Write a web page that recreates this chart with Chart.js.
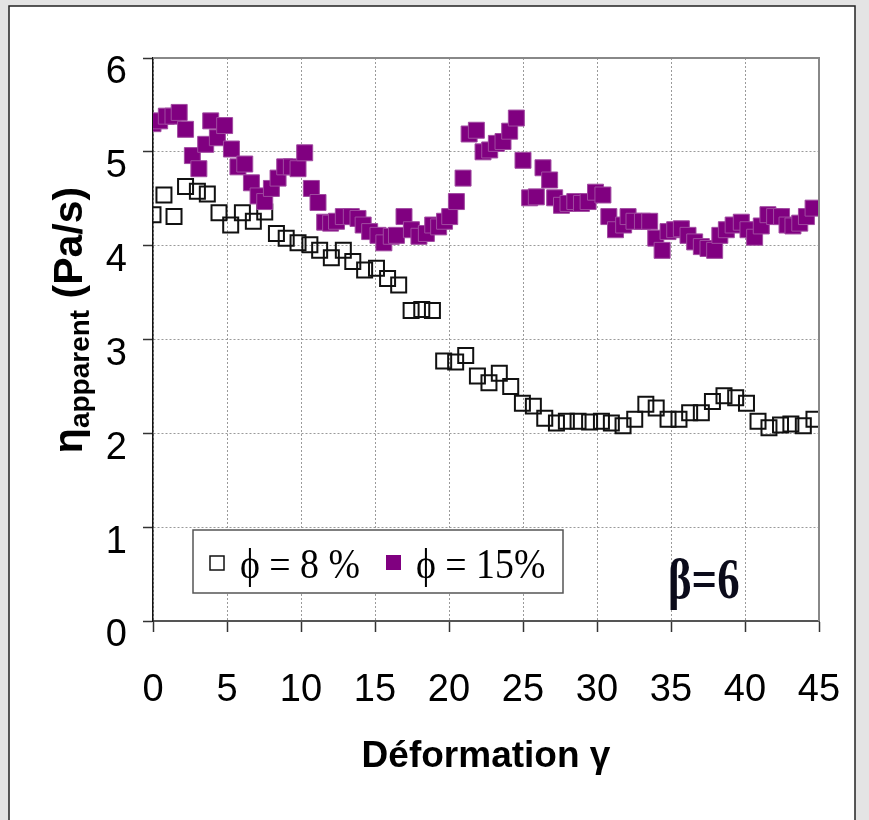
<!DOCTYPE html>
<html>
<head>
<meta charset="utf-8">
<script src="https://cdn.jsdelivr.net/npm/chart.js@4/dist/chart.umd.min.js"></script>
<style>
  html, body { margin: 0; padding: 0; background: #e4e4e4; }
  #wrap { position: absolute; left: 0; top: 0; width: 869px; height: 820px; }
</style>
</head>
<body>
<div id="wrap"><canvas id="chart" width="869" height="820"></canvas></div>
<script>
// phi = 8 % (open squares)
const gammaPhi8 = [0, 0.74, 1.42, 2.2, 3.0, 3.67, 4.46, 5.25, 6.04, 6.78, 7.55, 8.34, 9.0, 9.8, 10.6,
    11.26, 12.05, 12.86, 13.5, 14.3, 15.1, 15.85, 16.6, 17.44, 18.16, 18.88, 19.64, 20.45, 21.13, 21.92,
    22.7, 23.4, 24.17, 24.96, 25.7, 26.47, 27.26, 27.93, 28.72, 29.5, 30.3, 30.97, 31.76, 32.55, 33.3,
    34.0, 34.8, 35.54, 36.26, 37.05, 37.8, 38.58, 39.37, 40.1, 40.88, 41.62, 42.4, 43.1, 43.94, 44.66];
const etaPhi8 = [4.33, 4.54, 4.31, 4.63, 4.58, 4.55, 4.35, 4.22, 4.35, 4.26, 4.36, 4.13, 4.08, 4.03, 4.01,
    3.95, 3.87, 3.95, 3.83, 3.74, 3.76, 3.65, 3.58, 3.31, 3.32, 3.31, 2.77, 2.76, 2.83, 2.61,
    2.54, 2.64, 2.50, 2.32, 2.29, 2.16, 2.11, 2.13, 2.13, 2.12, 2.13, 2.11, 2.08, 2.15, 2.31,
    2.27, 2.15, 2.15, 2.22, 2.22, 2.34, 2.40, 2.38, 2.32, 2.13, 2.06, 2.09, 2.10, 2.08, 2.15];

// phi = 15 % (filled purple squares)
const gammaPhi15 = [0.0, 0.45, 0.9, 1.35, 1.77, 2.2, 2.66, 3.1, 3.56, 3.9, 4.35, 4.84, 5.3, 5.74, 6.2,
    6.65, 7.1, 7.55, 8.0, 8.45, 8.9, 9.35, 9.8, 10.25, 10.7, 11.15, 11.6, 12.0, 12.4, 12.86,
    13.4, 13.85, 14.2, 14.64, 15.2, 15.6, 16.1, 16.45, 16.96, 17.46, 17.97, 18.47, 18.9, 19.3, 19.7,
    20.05, 20.5, 20.95, 21.36, 21.85, 22.3, 22.75, 23.2, 23.65, 24.1, 24.55, 25.0, 25.45, 25.9, 26.35,
    26.8, 27.14, 27.6, 28.04, 28.5, 28.95, 29.4, 29.9, 30.4, 30.8, 31.25, 31.8, 32.1, 32.5, 33.07,
    33.56, 33.97, 34.4, 34.8, 35.25, 35.7, 36.15, 36.6, 37.05, 37.5, 37.95, 38.3, 38.74, 39.2, 39.75,
    40.2, 40.65, 41.1, 41.55, 42.0, 42.47, 42.84, 43.24, 43.7, 44.15, 44.6];
const etaPhi15 = [5.30, 5.33, 5.38, 5.38, 5.42, 5.24, 4.96, 4.82, 5.08, 5.33, 5.15, 5.28, 5.03, 4.84, 4.87,
    4.67, 4.53, 4.47, 4.61, 4.72, 4.84, 4.84, 4.82, 4.99, 4.61, 4.46, 4.25, 4.24, 4.26, 4.31,
    4.31, 4.29, 4.22, 4.15, 4.11, 4.03, 4.10, 4.11, 4.31, 4.17, 4.10, 4.13, 4.22, 4.20, 4.26,
    4.31, 4.47, 4.72, 5.19, 5.23, 5.00, 5.02, 5.09, 5.11, 5.22, 5.36, 4.91, 4.51, 4.52, 4.83,
    4.70, 4.51, 4.43, 4.45, 4.47, 4.45, 4.47, 4.57, 4.54, 4.31, 4.17, 4.22, 4.31, 4.26, 4.26,
    4.26, 4.08, 3.95, 4.15, 4.17, 4.18, 4.11, 4.04, 3.99, 3.97, 3.95, 4.11, 4.17, 4.22, 4.25,
    4.17, 4.09, 4.21, 4.33, 4.31, 4.31, 4.22, 4.21, 4.24, 4.31, 4.40];

const xRange = [0, 45];
const yRange = [0, 6];
const seriesLabels = ['\u03d5 = 8 %', '\u03d5 = 15%'];
const purple = '#800080';

const toPoints = (xs, ys) => xs.map((x, i) => ({ x: x, y: ys[i] }));

// background panel, frame, legend box, annotation and axis titles
const decor = {
    id: 'decor',
    beforeDraw(chart) {
        const ctx = chart.ctx;
        ctx.save();
        ctx.fillStyle = '#e4e4e4';
        ctx.fillRect(0, 0, 869, 820);
        ctx.fillStyle = '#fff';
        ctx.fillRect(9, 6, 846, 820);
        ctx.strokeStyle = '#222';
        ctx.lineWidth = 1.5;
        ctx.strokeRect(9, 6, 846, 830);
        ctx.restore();
    },
    afterDraw(chart) {
        const ctx = chart.ctx;
        const a = chart.chartArea;
        ctx.save();

        // top and right frame of the plot
        ctx.strokeStyle = '#888';
        ctx.lineWidth = 2;
        ctx.beginPath();
        ctx.moveTo(a.left, a.top);
        ctx.lineTo(a.right, a.top);
        ctx.lineTo(a.right, a.bottom);
        ctx.stroke();

        // legend
        ctx.fillStyle = '#fff';
        ctx.fillRect(193, 530, 370, 63);
        ctx.strokeStyle = '#555';
        ctx.lineWidth = 1.5;
        ctx.strokeRect(193, 530, 370, 63);

        ctx.strokeStyle = '#111';
        ctx.lineWidth = 1.5;
        ctx.strokeRect(210, 556, 14, 14);
        ctx.fillStyle = purple;
        ctx.fillRect(386, 555, 15, 15);

        ctx.fillStyle = '#000';
        ctx.font = '42px "Liberation Serif", "Times New Roman", serif';
        ctx.textBaseline = 'alphabetic';
        ctx.textAlign = 'left';
        ctx.save();
        ctx.translate(240, 578);
        ctx.scale(0.9, 1);
        ctx.fillText(seriesLabels[0], 0, 0);
        ctx.restore();
        ctx.save();
        ctx.translate(416, 578);
        ctx.scale(0.9, 1);
        ctx.fillText(seriesLabels[1], 0, 0);
        ctx.restore();

        // beta annotation
        ctx.save();
        ctx.translate(668, 598);
        ctx.scale(0.8, 1);
        ctx.fillStyle = '#0b0b1a';
        ctx.font = 'bold 56px "Liberation Serif", "Times New Roman", serif';
        ctx.fillText('\u03b2=6', 0, 0);
        ctx.restore();

        // x axis title
        ctx.fillStyle = '#000';
        ctx.textAlign = 'center';
        ctx.font = 'bold 37px "Liberation Sans", Arial, sans-serif';
        ctx.fillText('D\u00e9formation \u03b3', (a.left + a.right) / 2, 767);

        // y axis title with subscript
        const main = 'bold 41px "Liberation Sans", Arial, sans-serif';
        const sub = 'bold 28px "Liberation Sans", Arial, sans-serif';
        ctx.font = main;
        const wEta = ctx.measureText('\u03b7').width;
        const wTail = ctx.measureText(' (Pa/s)').width;
        ctx.font = sub;
        const wSub = ctx.measureText('apparent').width;
        const total = wEta + wSub + wTail;
        ctx.translate(82, 320);
        ctx.rotate(-Math.PI / 2);
        ctx.textAlign = 'left';
        let x0 = -total / 2;
        ctx.font = main;
        ctx.fillText('\u03b7', x0, 0);
        x0 += wEta;
        ctx.font = sub;
        ctx.fillText('apparent', x0, 7);
        x0 += wSub;
        ctx.font = main;
        ctx.fillText(' (Pa/s)', x0, 0);

        ctx.restore();
    }
};

const tickFont = { family: '"Liberation Sans", Arial, sans-serif', size: 38 };

new Chart(document.getElementById('chart'), {
    type: 'scatter',
    data: {
        datasets: [
            {
                label: seriesLabels[0],
                data: toPoints(gammaPhi8, etaPhi8),
                pointStyle: 'rect',
                pointRadius: 10.6,
                borderWidth: 2,
                borderColor: '#111',
                backgroundColor: 'rgba(0,0,0,0)',
                order: 1
            },
            {
                label: seriesLabels[1],
                data: toPoints(gammaPhi15, etaPhi15),
                pointStyle: 'rect',
                pointRadius: 11.3,
                borderWidth: 1,
                borderColor: '#a04aa0',
                backgroundColor: purple,
                order: 0
            }
        ]
    },
    options: {
        responsive: false,
        animation: false,
        events: [],
        layout: { padding: { left: 0, top: 58, right: 50, bottom: 0 } },
        plugins: {
            legend: { display: false },
            tooltip: { enabled: false },
            title: { display: false }
        },
        scales: {
            x: {
                type: 'linear',
                min: xRange[0],
                max: xRange[1],
                afterFit: (s) => { s.height = 199; s.paddingLeft = 0; s.paddingRight = 0; },
                ticks: { stepSize: 5, color: '#000', font: tickFont, padding: 36, maxRotation: 0 },
                grid: { color: '#9a9a9a', lineWidth: 1, tickColor: '#333', tickLength: 11, tickWidth: 1.5 },
                border: { display: true, color: '#555', width: 2, dash: [2, 2] }
            },
            y: {
                type: 'linear',
                min: yRange[0],
                max: yRange[1],
                afterFit: (s) => { s.width = 153; s.paddingTop = 0; s.paddingBottom = 0; },
                ticks: { stepSize: 1, color: '#000', font: tickFont, padding: 16, labelOffset: 15 },
                grid: { color: '#9a9a9a', lineWidth: 1, tickColor: '#333', tickLength: 10, tickWidth: 1.5 },
                border: { display: true, color: '#111', width: 1.5, dash: [2, 2] }
            }
        }
    },
    plugins: [decor]
});
</script>
</body>
</html>
